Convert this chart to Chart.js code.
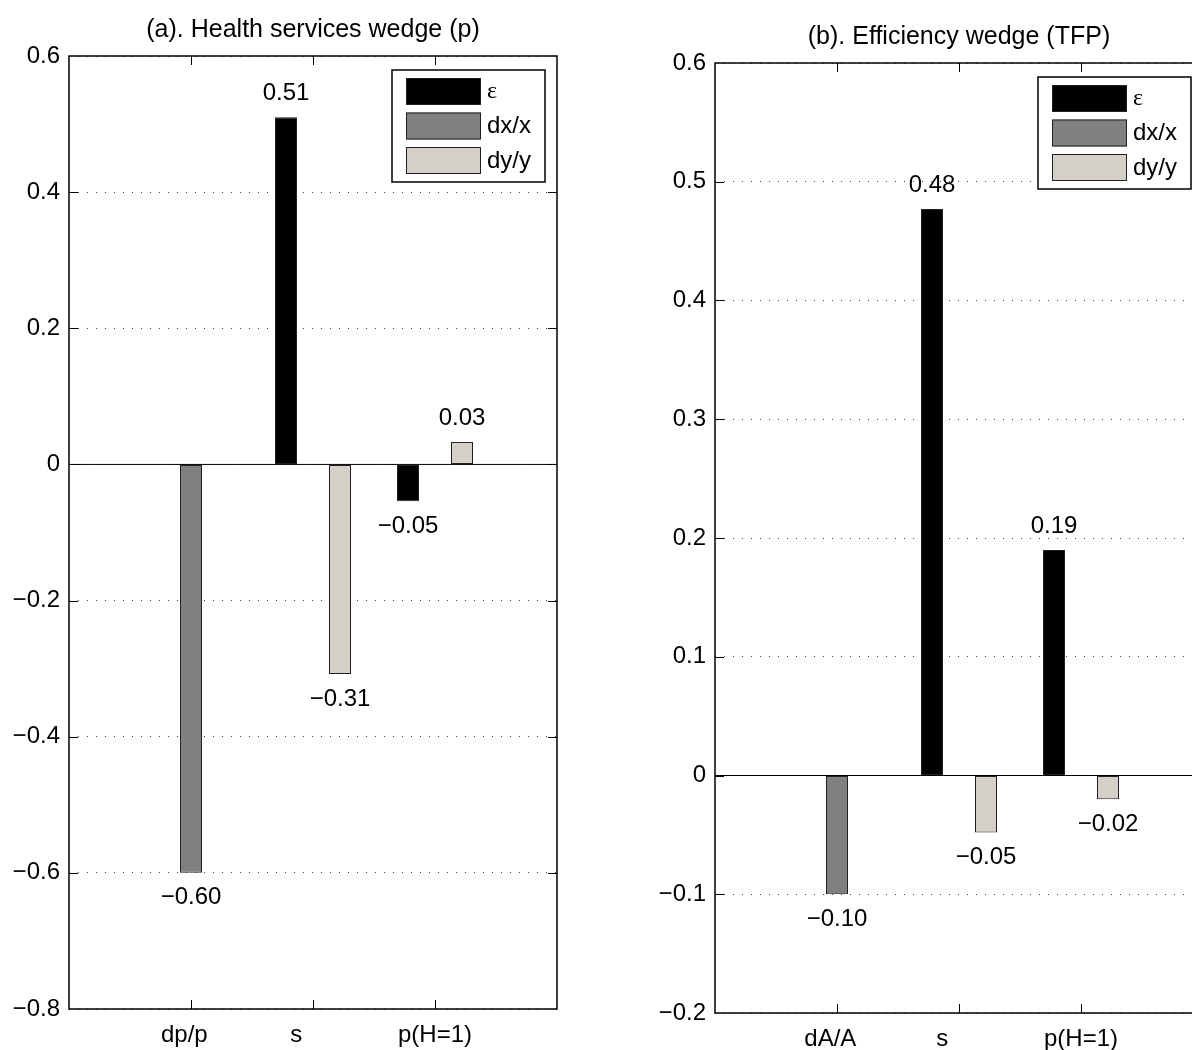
<!DOCTYPE html>
<html>
<head>
<meta charset="utf-8">
<script src="https://cdn.jsdelivr.net/npm/chart.js@4.4.1/dist/chart.umd.min.js"></script>
<style>
html, body { margin: 0; padding: 0; background: #fff; overflow: hidden; }
#wrap { position: relative; width: 1192px; height: 1050px; overflow: hidden; }
.box { position: absolute; top: 0; height: 1050px; }
#boxA { left: 0; width: 600px; }
#boxB { left: 600px; width: 620px; }
</style>
</head>
<body>
<div id="wrap">
  <div class="box" id="boxA"><canvas id="chartA"></canvas></div>
  <div class="box" id="boxB"><canvas id="chartB"></canvas></div>
</div>
<script>
// series shared by both panels
const seriesNames = ['\u03b5', 'dx/x', 'dy/y']
const seriesColors = ['#000000', '#808080', '#d4d0c8']

// panel (a)
const titleA = '(a). Health services wedge (p)'
const categoriesA = ['dp/p', 's', 'p(H=1)']
const epsA = [0, 0.51, -0.054]
const dxA = [-0.60, 0, 0]
const dyA = [0, -0.308, 0.033]
const yTicksA = [-0.8, -0.6, -0.4, -0.2, 0, 0.2, 0.4, 0.6]

// panel (b)
const titleB = '(b). Efficiency wedge (TFP)'
const categoriesB = ['dA/A', 's', 'p(H=1)']
const epsB = [0, 0.477, 0.19]
const dxB = [-0.10, 0, 0]
const dyB = [0, -0.048, -0.02]
const yTicksB = [-0.2, -0.1, 0, 0.1, 0.2, 0.3, 0.4, 0.5, 0.6]

const FONT = '"Liberation Sans", Arial, Helvetica, sans-serif'

// matlab pads the tick labels to the same length (char matrix), so they look shifted
const padLabels = cats => {
  const n = Math.max(...cats.map(c => c.length))
  return ['', ...cats.map(c => c.padEnd(n, ' ')), '']
}
// empty slot at each end -> xlim [0 4]
const padData = vals => [null, ...vals, null]

const fmtTick = v => {
  if (Math.abs(v) < 1e-9) return '0'
  return String(Math.round(v * 10) / 10).replace('-', '\u2212')
}

const matlabLook = {
  id: 'matlabLook',
  afterDatasetsDraw(chart) {
    const {ctx, chartArea: a, scales: {y}} = chart
    ctx.save()
    //baseline
    const y0 = y.getPixelForValue(0)
    ctx.strokeStyle = '#000'
    ctx.lineWidth = 1
    ctx.beginPath()
    ctx.moveTo(a.left, y0)
    ctx.lineTo(a.right, y0)
    ctx.stroke()

    //value labels
    ctx.font = '24px ' + FONT
    ctx.fillStyle = '#000'
    ctx.textAlign = 'center'
    ctx.textBaseline = 'middle'
    chart.data.datasets.forEach((ds, i) => {
      chart.getDatasetMeta(i).data.forEach((bar, j) => {
        const v = ds.data[j]
        if (!v) return
        const txt = v.toFixed(2).replace('-', '\u2212')
        ctx.fillText(txt, bar.x, v > 0 ? bar.y - 24 : bar.y + 25)
      })
    })

    //legend box inside the axes
    const w = 153, h = 112
    const lx = a.right - 12 - w, ly = a.top + 14
    ctx.fillStyle = '#fff'
    ctx.fillRect(lx, ly, w, h)
    ctx.strokeStyle = '#000'
    ctx.lineWidth = 1.5
    ctx.strokeRect(lx, ly, w, h)
    chart.data.datasets.forEach((ds, i) => {
      const sy = ly + 8 + i * 34.5
      ctx.fillStyle = ds.backgroundColor
      ctx.fillRect(lx + 14, sy, 75, 27)
      ctx.strokeStyle = '#222'
      ctx.lineWidth = 1
      ctx.strokeRect(lx + 14.5, sy + 0.5, 74, 26)
      ctx.fillStyle = '#000'
      ctx.textAlign = 'left'
      ctx.font = i === 0 ? '24px "Liberation Serif", "DejaVu Serif", serif' : '24px ' + FONT
      ctx.fillText(ds.label, lx + 95, sy + 14)
    })
    ctx.restore()
  },
  afterDraw(chart, args, opts) {
    const {ctx, chartArea: a, scales: {x, y}} = chart
    ctx.save()
    ctx.strokeStyle = '#000'
    ctx.lineWidth = 1.5
    ctx.strokeRect(a.left, a.top, a.right - a.left, a.bottom - a.top)
    //inward ticks
    ctx.lineWidth = 1
    ctx.beginPath()
    for (let i = 1; i < x.ticks.length - 1; i++) {
      const px = Math.round(x.getPixelForTick(i)) + 0.5
      ctx.moveTo(px, a.bottom); ctx.lineTo(px, a.bottom - 9)
      ctx.moveTo(px, a.top); ctx.lineTo(px, a.top + 9)
    }
    for (let i = 1; i < y.ticks.length - 1; i++) {
      const py = Math.round(y.getPixelForTick(i)) + 0.5
      ctx.moveTo(a.left, py); ctx.lineTo(a.left + 9, py)
      ctx.moveTo(a.right, py); ctx.lineTo(a.right - 9, py)
    }
    ctx.stroke()
    //title
    ctx.font = '25px ' + FONT
    ctx.fillStyle = '#000'
    ctx.textAlign = 'center'
    ctx.textBaseline = 'middle'
    ctx.fillText(opts.text, (a.left + a.right) / 2, a.top - 26)
    ctx.restore()
  }
}

const makeChart = (id, title, cats, eps, dx, dy, yTicks, box) => {
  const series = [eps, dx, dy]
  return new Chart(document.getElementById(id), {
    type: 'bar',
    data: {
      labels: padLabels(cats),
      datasets: series.map((vals, i) => ({
        label: seriesNames[i],
        data: padData(vals),
        backgroundColor: seriesColors[i],
        borderColor: '#222',
        borderWidth: 1,
        borderSkipped: false,
        categoryPercentage: 0.664,
        barPercentage: 0.815
      }))
    },
    plugins: [matlabLook],
    options: {
      responsive: true,
      maintainAspectRatio: false,
      animation: false,
      events: [],
      layout: { padding: { top: box.top, right: box.right, left: 0, bottom: 0 } },
      plugins: {
        legend: { display: false },
        tooltip: { enabled: false },
        matlabLook: { text: title }
      },
      scales: {
        x: {
          offset: false,
          grid: { display: false },
          border: { display: false },
          ticks: {
            color: '#000',
            font: { size: 24, family: FONT },
            padding: 4,
            autoSkip: false,
            maxRotation: 0
          },
          afterFit: s => { s.height = box.bottom }
        },
        y: {
          min: yTicks[0],
          max: yTicks[yTicks.length - 1],
          afterBuildTicks: s => { s.ticks = yTicks.map(v => ({ value: v })) },
          grid: { color: '#444', lineWidth: 1, drawTicks: false },
          border: { display: false, dash: [1, 8] },
          ticks: {
            color: '#000',
            font: { size: 24, family: FONT },
            padding: 9,
            callback: v => fmtTick(v)
          },
          afterFit: s => { s.width = box.left }
        }
      }
    }
  })
}

makeChart('chartA', titleA, categoriesA, epsA, dxA, dyA, yTicksA,
  { left: 69, right: 43, top: 56, bottom: 41 })
makeChart('chartB', titleB, categoriesB, epsB, dxB, dyB, yTicksB,
  { left: 115, right: 17, top: 63, bottom: 37 })
</script>
</body>
</html>
